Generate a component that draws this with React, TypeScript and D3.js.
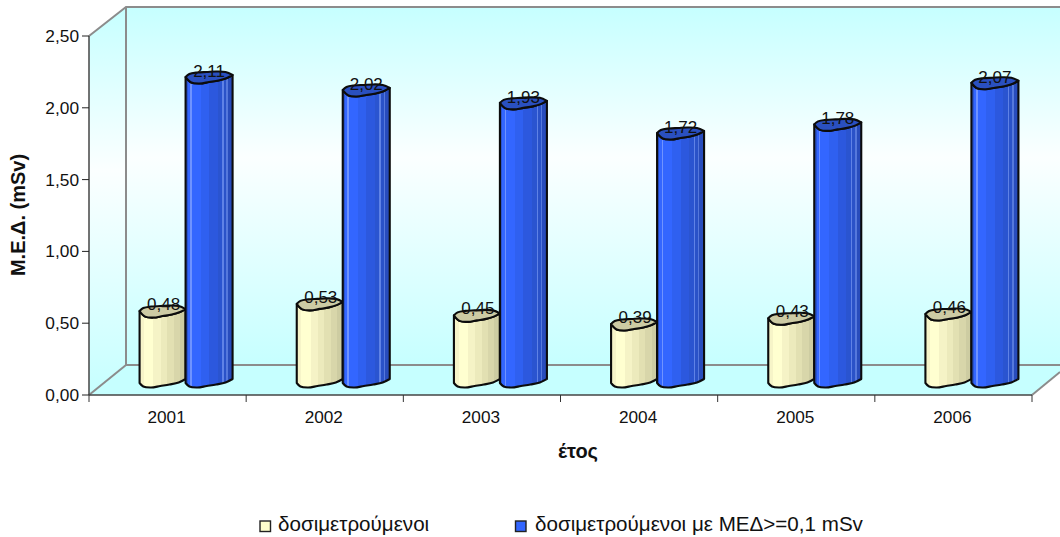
import React from "react";
import * as d3 from "d3";

// Mean effective dose per year
const years = ["2001", "2002", "2003", "2004", "2005", "2006"];
const monitored = [0.48, 0.53, 0.45, 0.39, 0.43, 0.46];
const monitoredAbove = [2.11, 2.02, 1.93, 1.72, 1.78, 2.07];
const yTicks = [0, 0.5, 1, 1.5, 2, 2.5];
const seriesNames = ["δοσιμετρούμενοι", "δοσιμετρούμενοι με ΜΕΔ>=0,1 mSv"];

const W = 1060, H = 537;
const plot = { left: 89, right: 1032, top: 36, bottom: 395 };
const depth = { dx: 37, dy: 30 };
const barShift = { dx: 18, dy: 15 };
const font = "'Liberation Sans', Arial, sans-serif";

const y = d3.scaleLinear().domain([0, 2.5]).range([plot.bottom, plot.top]);
const x0 = d3.scaleBand().domain(years).range([plot.left, plot.right]);
const x1 = d3.scaleBand().domain(["a", "b"]).range([0, 94]);

// Outline of a slightly irregular cylinder: [fraction across, vertical offset]
const capBack: [number, number][] = [[0, 0], [0.08, -3], [0.25, -4.5], [0.45, -5], [0.65, -5.5], [0.85, -5], [1, -2]];
const capFront: [number, number][] = [[1, -2], [0.88, 1], [0.7, 3.5], [0.5, 5], [0.3, 6.5], [0.12, 5.5], [0, 0]];
const footFront: [number, number][] = [[1, -3], [0.85, 0.5], [0.65, 2.5], [0.45, 4], [0.25, 5.5], [0.08, 4.5], [0, 1]];

const smooth = d3.line<[number, number]>().x(d => d[0]).y(d => d[1]).curve(d3.curveCatmullRom.alpha(0.5));
const tail = (d: string) => d.replace(/^M[^CLc]*/, "");

function Cylinder({ xl, w, top, base, bodyId, capFill }: { xl: number; w: number; top: number; base: number; bodyId: string; capFill: string }) {
  const at = (pts: [number, number][], yy: number) => pts.map(([f, o]) => [xl + f * w, yy + o] as [number, number]);
  const foot = at(footFront, base);
  const front = at(capFront, top);
  const body = `M${xl + w},${top - 2}L${xl + w},${foot[0][1]}` + tail(smooth(foot)!) + `L${xl},${top}` + tail(smooth(front.slice().reverse())!) + "Z";
  const cap = smooth(at(capBack, top))! + tail(smooth(front)!) + "Z";
  return (
    <g stroke="#0c0c0c" strokeWidth={2.1} strokeLinejoin="round">
      <path d={body} fill={`url(#${bodyId})`} />
      <path d={cap} fill={capFill} />
    </g>
  );
}

// Faceted shading: each colour holds across a band of the cylinder
const bands = (id: string, cols: [number, string][]) => (
  <linearGradient id={id} x1="0" x2="1" y1="0" y2="0">
    {cols.flatMap(([o, c], i) => {
      const end = i + 1 < cols.length ? cols[i + 1][0] : 1;
      return [<stop key={i + "a"} offset={o} stopColor={c} />, <stop key={i + "b"} offset={end} stopColor={c} />];
    })}
  </linearGradient>
);

const comma = (v: number) => v.toFixed(2).replace(".", ",");

export default function App() {
  const backL = plot.left + depth.dx;
  const backT = plot.top - depth.dy + 1;
  const backB = plot.bottom - depth.dy;
  return (
    <svg width={W} height={H} style={{ position: "absolute", left: 0, top: 0, background: "#fff" }} fontFamily={font}>
      <defs>
        <linearGradient id="wall" x1="0" x2="0" y1="0" y2="1">
          <stop offset="0" stopColor="#c6ffff" />
          <stop offset="0.42" stopColor="#fbffff" />
          <stop offset="1" stopColor="#c6ffff" />
        </linearGradient>
        {bands("creamBody", [[0, "#f6f4c8"], [0.1, "#ffffd0"], [0.3, "#f5f3c6"], [0.46, "#ecEABC"], [0.6, "#e2e0b2"], [0.74, "#d8d6aa"], [0.88, "#cdcca2"]])}
        {bands("blueBody", [[0, "#2a54d0"], [0.05, "#3366ff"], [0.1, "#6f93ff"], [0.13, "#3366ff"], [0.32, "#2f60f0"], [0.5, "#2c58de"], [0.68, "#2a54d0"], [0.78, "#5f82e6"], [0.81, "#2a52c8"], [0.87, "#5578dc"], [0.9, "#284cbc"]])}
      </defs>

      {/* back wall, side wall and floor */}
      <rect x={backL} y={backT} width={W - backL} height={backB - backT} fill="url(#wall)" />
      <path d={`M${plot.left},${plot.top}L${backL},${backT}L${backL},${backB}L${plot.left},${plot.bottom}Z`} fill="url(#wall)" />
      <path d={`M${plot.left},${plot.bottom}L${backL},${backB}L${W},${backB}L${W},${plot.bottom - 23}L${plot.right},${plot.bottom}Z`} fill="#c6ffff" />
      <g stroke="#8c8c8c" strokeWidth={2} fill="none">
        <path d={`M${plot.left},${plot.top}L${backL},${backT}L${W},${backT}`} />
        <path d={`M${backL},${backT}L${backL},${backB}L${W},${backB}`} />
        <path d={`M${plot.left},${plot.bottom}L${backL},${backB}`} />
        <path d={`M${plot.right},${plot.bottom}L${W},${plot.bottom - 23}`} />
      </g>

      {/* axes */}
      <line x1={plot.left} x2={plot.left} y1={plot.top} y2={plot.bottom} stroke="#444" strokeWidth={1.5} />
      <line x1={plot.left} x2={plot.right} y1={plot.bottom} y2={plot.bottom} stroke="#444" strokeWidth={1.5} />
      {yTicks.map(t => (
        <g key={t}>
          <line x1={plot.left - 7} x2={plot.left} y1={y(t)} y2={y(t)} stroke="#222" />
          <text x={plot.left - 10} y={y(t) + 6} fontSize={17.3} textAnchor="end" fill="#111">{comma(t)}</text>
        </g>
      ))}
      {[...years.map(c => x0(c)!), plot.right].map((t, i) => (
        <line key={i} x1={t} x2={t} y1={plot.bottom} y2={plot.bottom + 7} stroke="#333" />
      ))}
      {years.map(c => (
        <text key={c} x={x0(c)! + x0.bandwidth() / 2 - 1} y={423} fontSize={17.2} textAnchor="middle" fill="#111">{c}</text>
      ))}

      {/* cylinders with their value labels */}
      {years.map((c, i) => {
        const cx = x0(c)! + x0.bandwidth() / 2 + barShift.dx;
        const left = cx - 47;
        const base = y(0) - barShift.dy;
        const topA = y(monitored[i]) - barShift.dy;
        const topB = y(monitoredAbove[i]) - barShift.dy;
        return (
          <g key={c}>
            <Cylinder xl={left + 1 + x1("a")!} w={x1.bandwidth() - 1} top={topA} base={base + 2} bodyId="creamBody" capFill="#cdcba4" />
            <Cylinder xl={left + x1("b")!} w={x1.bandwidth()} top={topB} base={base + 2} bodyId="blueBody" capFill="#2a50c0" />
            <text x={left + x1("a")! + x1.bandwidth() / 2 + 1.5} y={topA - 1} fontSize={17} textAnchor="middle" fill="#111">{comma(monitored[i])}</text>
            <text x={left + x1("b")! + x1.bandwidth() / 2} y={topB} fontSize={17} textAnchor="middle" fill="#111">{comma(monitoredAbove[i])}</text>
          </g>
        );
      })}

      {/* axis titles */}
      <text x={578} y={458} fontSize={20} fontWeight="bold" textAnchor="middle" fill="#111">έτος</text>
      <text transform="translate(25,215) rotate(-90)" fontSize={20} fontWeight="bold" textAnchor="middle" fill="#111">Μ.Ε.Δ. (mSv)</text>

      {/* legend */}
      <rect x={260} y={521} width={10.5} height={10.5} fill="#ffffcc" stroke="#222" strokeWidth={1.4} />
      <text x={278} y={531} fontSize={20.6} fill="#111">{seriesNames[0]}</text>
      <rect x={515.5} y={521} width={10.5} height={10.5} fill="#3366ff" stroke="#222" strokeWidth={1.4} />
      <text x={535} y={531} fontSize={20.6} fill="#111">{seriesNames[1]}</text>
    </svg>
  );
}
